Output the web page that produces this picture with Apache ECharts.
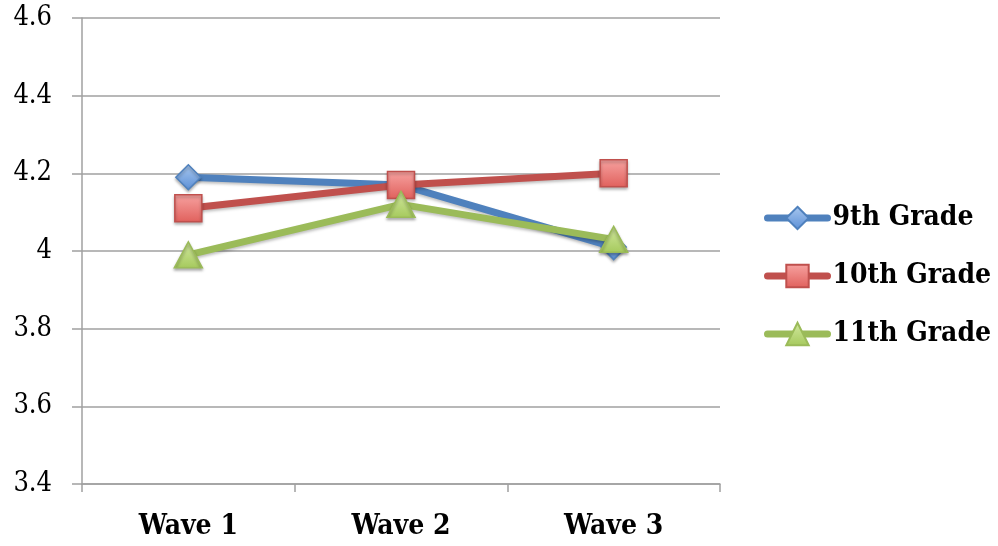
<!DOCTYPE html>
<html><head><meta charset="utf-8">
<script src="https://cdn.jsdelivr.net/npm/echarts@6/dist/echarts.min.js"></script>
<style>html,body{margin:0;padding:0;background:#fff}#c{width:998px;height:546px}</style>
</head><body><div id="c"></div>
<script>
const categories = ['Wave 1', 'Wave 2', 'Wave 3'];
const grade9 = [4.19, 4.17, 4.01];
const grade10 = [4.11, 4.17, 4.20];
const grade11 = [3.99, 4.12, 4.03];
const seriesNames = ['9th Grade', '10th Grade', '11th Grade'];

const font = '"DejaVu Serif Condensed", "DejaVu Serif", serif';
const chart = echarts.init(document.getElementById('c'));
function mk(name, data, color, fill, symbol, size) {
  return {
    name, type: 'line', data, symbol, symbolSize: size,
    lineStyle: { color, width: 7, cap: 'round', shadowColor: 'rgba(0,0,0,0.25)', shadowBlur: 3, shadowOffsetY: 2 },
    itemStyle: {
      color: new echarts.graphic.LinearGradient(0, 0, 0, 1, [{offset: 0, color: fill[0]}, {offset: 1, color: fill[1]}]),
      borderColor: color, borderWidth: 1.5,
      shadowColor: 'rgba(0,0,0,0.3)', shadowBlur: 3, shadowOffsetY: 2
    },
    emphasis: { disabled: true },
    animation: false
  };
}
chart.setOption({
  animation: false,
  grid: { left: 82, right: 278, top: 18, bottom: 62 },
  legend: {
    orient: 'vertical', left: 759, top: 199, itemGap: 30, itemWidth: 60, itemHeight: 28,
    lineStyle: { width: 7, cap: 'round' },
    textStyle: { fontFamily: font, fontWeight: 'bold', fontSize: 28, color: '#000' },
    data: seriesNames
  },
  xAxis: {
    type: 'category', data: categories, boundaryGap: true,
    axisLine: { lineStyle: { color: '#a0a0a0', width: 1.5 } },
    axisTick: { show: true, length: 8, lineStyle: { color: '#a0a0a0', width: 1.5 } },
    axisLabel: { fontFamily: font, fontWeight: 'bold', fontSize: 28, color: '#000', margin: 29 },
    splitLine: { show: false }
  },
  yAxis: {
    type: 'value', min: 3.4, max: 4.6, interval: 0.2,
    axisLine: { show: true, lineStyle: { color: '#a0a0a0', width: 1.5 } },
    axisTick: { show: true, length: 10, lineStyle: { color: '#a0a0a0', width: 1.5 } },
    axisLabel: { fontFamily: font, fontSize: 27, color: '#000', margin: 30,
      formatter: v => String(parseFloat(v.toFixed(1))) },
    splitLine: { show: true, lineStyle: { color: '#a0a0a0', width: 1.5 } }
  },
  series: [
    mk(seriesNames[0], grade9, '#4f81bd', ['#a9c8ef', '#5b8fd6'], 'diamond', [25, 25]),
    mk(seriesNames[1], grade10, '#c0504d', ['#f7a3a1', '#e0605c'], 'rect', [27, 27]),
    mk(seriesNames[2], grade11, '#9bbb59', ['#d3e9a1', '#a5c95c'], 'triangle', [28, 26])
  ]
});
</script></body></html>
